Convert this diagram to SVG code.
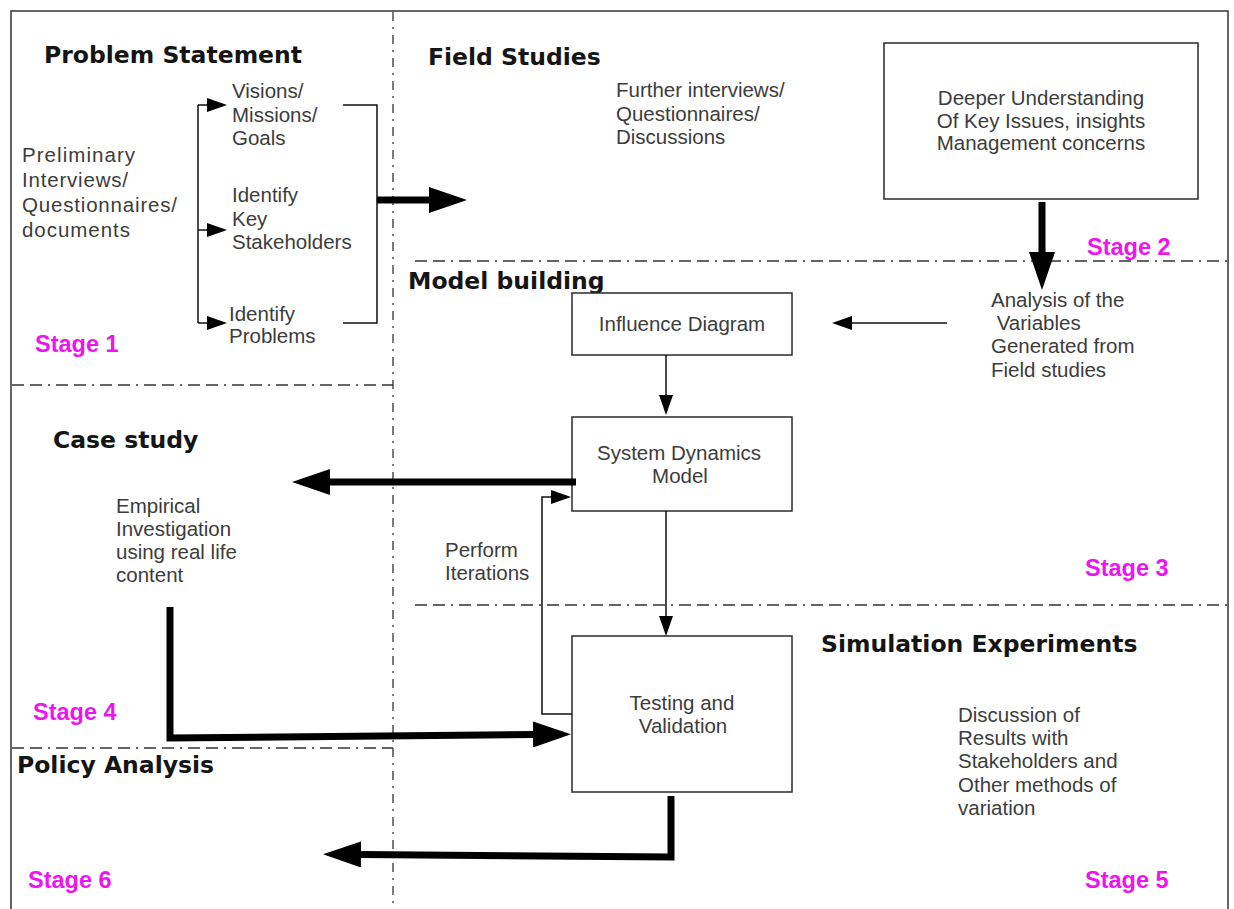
<svg xmlns="http://www.w3.org/2000/svg" width="1234" height="909" viewBox="0 0 1234 909">
  <style>
    .frame { fill: none; stroke: #333; stroke-width: 1.5; }
    .box { fill: #fff; stroke: #2a2a2a; stroke-width: 1.5; }
    .divider { fill: none; stroke: #333; stroke-width: 1.3; stroke-dasharray: 12 6 12 6 2 6; }
    .vdivider { fill: none; stroke: #333; stroke-width: 1.3; stroke-dasharray: 9 6 2 6; }
    .thin { fill: none; stroke: #111; stroke-width: 1.5; }
    .thick { fill: none; stroke: #000; stroke-width: 7; stroke-linejoin: miter; }
    .head { font-family: "DejaVu Sans", "Liberation Sans", sans-serif; font-weight: bold; font-size: 23.5px; fill: #151515; }
    .body { font-family: "Liberation Sans", Arial, sans-serif; font-size: 20.5px; fill: #3c3c3c; }
    .mid { text-anchor: middle; }
    .stage { font-family: "Liberation Sans", Arial, sans-serif; font-weight: bold; font-size: 23.5px; fill: #ee14ee; }
  </style>
  <defs>
    <marker id="tipThin" markerUnits="userSpaceOnUse" markerWidth="20" markerHeight="14" refX="0" refY="7" orient="auto">
      <path d="M0,0 L20,7 L0,14 z" fill="#000"/>
    </marker>
    <marker id="tipThick" markerUnits="userSpaceOnUse" markerWidth="38" markerHeight="26" refX="0" refY="13" orient="auto">
      <path d="M0,0 L38,13 L0,26 z" fill="#000"/>
    </marker>
  </defs>

  <rect x="0" y="0" width="1234" height="909" fill="#fff"/>

  <!-- outer frame and stage dividers -->
  <g id="layout">
    <rect class="frame" x="11" y="11" width="1217" height="920"/>
    <line class="vdivider" x1="393" y1="12" x2="393" y2="909"/>
    <line class="divider" x1="12" y1="385" x2="393" y2="385"/>
    <line class="divider" x1="12" y1="748" x2="393" y2="748"/>
    <line class="divider" x1="415" y1="261" x2="1227" y2="261"/>
    <line class="divider" x1="415" y1="605" x2="1227" y2="605"/>
  </g>

  <!-- section headings -->
  <g id="headings">
    <text class="head" x="44" y="63">Problem Statement</text>
    <text class="head" x="428" y="65">Field Studies</text>
    <text class="head" x="408" y="289">Model building</text>
    <text class="head" x="53" y="448">Case study</text>
    <text class="head" x="821" y="652">Simulation Experiments</text>
    <text class="head" x="17" y="773">Policy Analysis</text>
  </g>

  <!-- stage labels -->
  <g id="stages">
    <text class="stage" x="35" y="352">Stage 1</text>
    <text class="stage" x="1087" y="255">Stage 2</text>
    <text class="stage" x="1085" y="576">Stage 3</text>
    <text class="stage" x="33" y="720">Stage 4</text>
    <text class="stage" x="1085" y="888">Stage 5</text>
    <text class="stage" x="28" y="888">Stage 6</text>
  </g>

  <!-- stage 1 -->
  <g id="preliminary">
    <text class="body" x="22" y="162" textLength="113" lengthAdjust="spacing">Preliminary</text>
    <text class="body" x="22" y="187" textLength="106" lengthAdjust="spacing">Interviews/</text>
    <text class="body" x="22" y="212" textLength="155" lengthAdjust="spacing">Questionnaires/</text>
    <text class="body" x="22" y="237" textLength="108" lengthAdjust="spacing">documents</text>
  </g>
  <g id="visions">
    <text class="body" x="232" y="98">Visions/</text>
    <text class="body" x="232" y="122">Missions/</text>
    <text class="body" x="232" y="145">Goals</text>
  </g>
  <g id="stakeholders">
    <text class="body" x="232" y="202">Identify</text>
    <text class="body" x="232" y="226">Key</text>
    <text class="body" x="232" y="249">Stakeholders</text>
  </g>
  <g id="problems">
    <text class="body" x="229" y="321">Identify</text>
    <text class="body" x="229" y="343">Problems</text>
  </g>

  <!-- stage 2 -->
  <g id="further-interviews">
    <text class="body" x="616" y="97">Further interviews/</text>
    <text class="body" x="616" y="121">Questionnaires/</text>
    <text class="body" x="616" y="144">Discussions</text>
  </g>
  <g id="deeper-understanding">
    <rect class="box" x="884" y="43" width="314" height="156"/>
    <text class="body mid" x="1041" y="105">Deeper Understanding</text>
    <text class="body mid" x="1041" y="128">Of Key Issues, insights</text>
    <text class="body mid" x="1041" y="150">Management concerns</text>
  </g>

  <!-- stage 3 -->
  <g id="analysis">
    <text class="body" x="991" y="307">Analysis of the</text>
    <text class="body" x="991" y="330" xml:space="preserve"> Variables</text>
    <text class="body" x="991" y="353">Generated from</text>
    <text class="body" x="991" y="377">Field studies</text>
  </g>
  <g id="influence-diagram">
    <rect class="box" x="572" y="293" width="220" height="62"/>
    <text class="body mid" x="682" y="331">Influence Diagram</text>
  </g>
  <g id="system-dynamics-model">
    <rect class="box" x="572" y="417" width="220" height="94"/>
    <text class="body mid" x="679" y="460">System Dynamics</text>
    <text class="body mid" x="680" y="483">Model</text>
  </g>
  <g id="iterations">
    <text class="body" x="445" y="557">Perform</text>
    <text class="body" x="445" y="580">Iterations</text>
  </g>

  <!-- stage 4 -->
  <g id="empirical">
    <text class="body" x="116" y="513">Empirical</text>
    <text class="body" x="116" y="536">Investigation</text>
    <text class="body" x="116" y="559">using real life</text>
    <text class="body" x="116" y="582">content</text>
  </g>

  <!-- stage 5 -->
  <g id="testing-validation">
    <rect class="box" x="572" y="636" width="220" height="156"/>
    <text class="body mid" x="682" y="710">Testing and</text>
    <text class="body mid" x="683" y="733">Validation</text>
  </g>
  <g id="discussion">
    <text class="body" x="958" y="722">Discussion of</text>
    <text class="body" x="958" y="745">Results with</text>
    <text class="body" x="958" y="768">Stakeholders and</text>
    <text class="body" x="958" y="792">Other methods of</text>
    <text class="body" x="958" y="815">variation</text>
  </g>

  <!-- connectors -->
  <g id="connectors">
    <!-- fan-out bracket from preliminary work -->
    <path class="thin" d="M198,105 V323"/>
    <path class="thin" d="M198,105 H207" marker-end="url(#tipThin)"/>
    <path class="thin" d="M198,230 H207" marker-end="url(#tipThin)"/>
    <path class="thin" d="M198,323 H207" marker-end="url(#tipThin)"/>
    <!-- closing bracket -->
    <path class="thin" d="M343,105 H377 V323 H343"/>
    <!-- stage 1 to field studies -->
    <path class="thick" d="M377,200 H429" marker-end="url(#tipThick)"/>
    <!-- deeper understanding to analysis -->
    <path class="thick" d="M1042,202 V252" marker-end="url(#tipThick)"/>
    <!-- analysis to influence diagram -->
    <path class="thin" d="M947,323 H852" marker-end="url(#tipThin)"/>
    <!-- influence diagram to system dynamics model -->
    <path class="thin" d="M666,355 V395" marker-end="url(#tipThin)"/>
    <!-- system dynamics model to case study -->
    <path class="thick" d="M576,482 H330" marker-end="url(#tipThick)"/>
    <!-- system dynamics model to testing -->
    <path class="thin" d="M666,511 V616" marker-end="url(#tipThin)"/>
    <!-- iteration loop back from testing -->
    <path class="thin" d="M572,714 H542 V497 H551" marker-end="url(#tipThin)"/>
    <!-- case study to testing -->
    <path class="thick" d="M170,607 V738 L533,734.5" marker-end="url(#tipThick)"/>
    <!-- testing to policy analysis -->
    <path class="thick" d="M671,796 V857 L361,854.5" marker-end="url(#tipThick)"/>
  </g>
</svg>
